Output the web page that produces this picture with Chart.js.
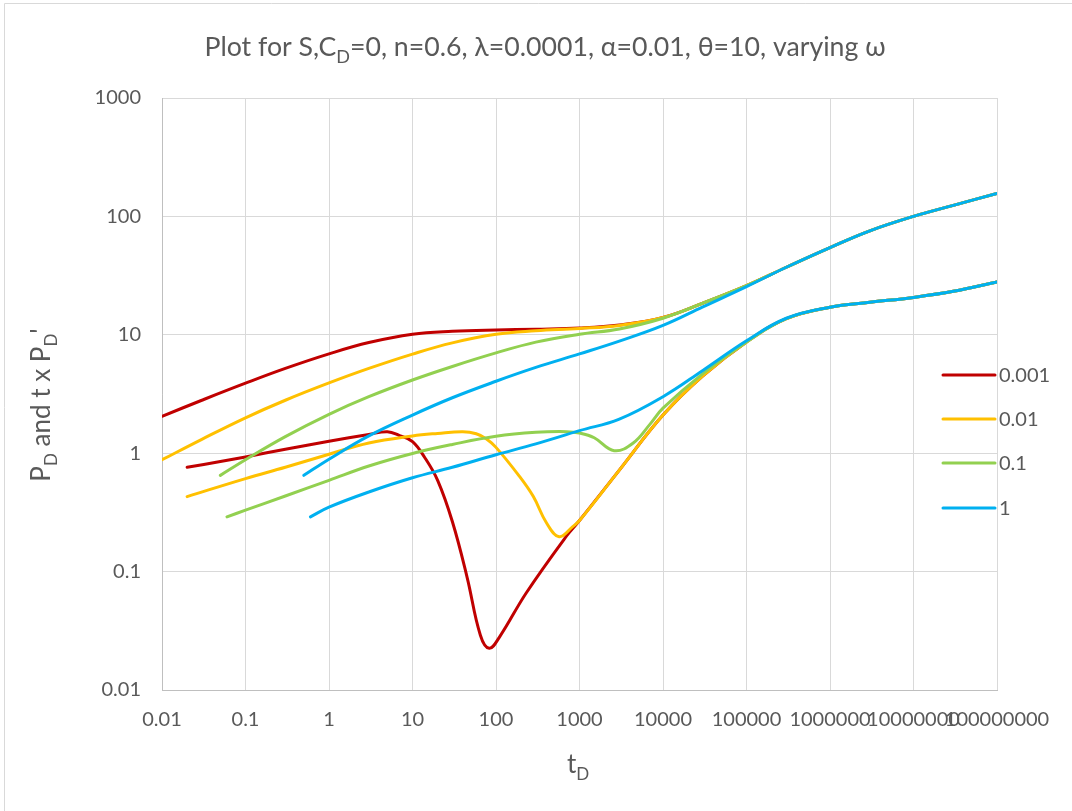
<!DOCTYPE html>
<html>
<head>
<meta charset="utf-8">
<script src="https://cdn.jsdelivr.net/npm/chart.js@4.4.1/dist/chart.umd.min.js"></script>
<style>
  html, body { margin: 0; padding: 0; background: #fff; }
  #wrap { width: 1072px; height: 811px; }
</style>
</head>
<body>
<div id="wrap"><canvas id="chart" width="1072" height="811"></canvas></div>
<script>
// Legend entries (omega) and their line colours
const omegas = ['0.001', '0.01', '0.1', '1'];
const seriesColors = ['#C00000', '#FFC000', '#92D050', '#00B0F0'];

const xTicks = [0.01, 0.1, 1, 10, 100, 1000, 10000, 1e5, 1e6, 1e7, 1e8];
const xTickLabels = ['0.01', '0.1', '1', '10', '100', '1000', '10000', '100000', '1000000', '10000000', '100000000'];
const yTicks = [0.01, 0.1, 1, 10, 100, 1000];
const yTickLabels = ['0.01', '0.1', '1', '10', '100', '1000'];

// omega = 0.001
const tPd1 = [0.01, 0.03, 0.1, 0.3, 1, 3, 10, 30, 100, 300, 1000, 3000, 1e4, 3e4, 1e5, 3e5, 1e6, 3e6, 1e7, 3e7, 1e8];
const pd1 = [2.05, 2.8, 3.9, 5.2, 6.9, 8.6, 10.1, 10.7, 11.0, 11.15, 11.4, 12.1, 14.0, 18.5, 26, 37.2, 54.5, 75.5, 100, 124, 156];
const tDer1 = [0.02, 0.05, 0.1, 0.3, 1, 3, 5, 7, 10, 14, 20, 30, 45, 65, 83, 110, 230, 700, 1000, 3000, 1e4, 3e4, 1e5, 3e5, 1e6, 3e6, 1e7, 3e7, 1e8];
const der1 = [0.76, 0.85, 0.93, 1.08, 1.26, 1.44, 1.52, 1.41, 1.25, 0.92, 0.59, 0.265, 0.09, 0.029, 0.0225, 0.028, 0.066, 0.2, 0.27, 0.72, 2.1, 4.5, 8.7, 13.7, 17.1, 18.8, 20.7, 23.3, 28];

// omega = 0.01
const tPd2 = [0.01, 0.03, 0.1, 0.3, 1, 3, 10, 30, 100, 300, 1000, 3000, 1e4, 3e4, 1e5, 3e5, 1e6, 3e6, 1e7, 3e7, 1e8];
const pd2 = [0.88, 1.31, 1.99, 2.8, 3.92, 5.2, 6.87, 8.55, 10.1, 10.8, 11.3, 12.0, 14.0, 18.5, 26, 37.2, 54.5, 75.5, 100, 124, 156];
const tDer2 = [0.02, 0.1, 0.3, 1, 3, 10, 20, 40, 58, 77, 100, 190, 280, 400, 570, 830, 1000, 3000, 1e4, 3e4, 1e5, 3e5, 1e6, 3e6, 1e7, 3e7, 1e8];
const der2 = [0.43, 0.61, 0.76, 0.98, 1.22, 1.40, 1.47, 1.52, 1.46, 1.32, 1.12, 0.64, 0.43, 0.26, 0.197, 0.24, 0.27, 0.72, 2.1, 4.5, 8.7, 13.7, 17.1, 18.8, 20.7, 23.3, 28];

// omega = 0.1
const tPd3 = [0.05, 0.1, 0.3, 1, 3, 10, 30, 100, 300, 1000, 3000, 1e4, 3e4, 1e5, 3e5, 1e6, 3e6, 1e7, 3e7, 1e8];
const pd3 = [0.65, 0.88, 1.38, 2.13, 3.0, 4.15, 5.4, 7.03, 8.67, 10.1, 11.2, 13.8, 18.5, 26, 37.2, 54.5, 75.5, 100, 124, 156];
const tDer3 = [0.06, 0.1, 0.3, 1, 3, 10, 30, 100, 300, 700, 1000, 1500, 2600, 4400, 7000, 1e4, 3e4, 1e5, 3e5, 1e6, 3e6, 1e7, 3e7, 1e8];
const der3 = [0.29, 0.33, 0.435, 0.59, 0.78, 0.995, 1.185, 1.39, 1.5, 1.52, 1.48, 1.35, 1.05, 1.22, 1.76, 2.4, 4.7, 8.7, 13.7, 17.1, 18.8, 20.7, 23.3, 28];

// omega = 1
const tPd4 = [0.5, 1, 3, 10, 30, 100, 300, 1000, 3000, 1e4, 3e4, 1e5, 3e5, 1e6, 3e6, 1e7, 3e7, 1e8];
const pd4 = [0.65, 0.89, 1.40, 2.1, 2.94, 4.05, 5.3, 6.9, 8.85, 12.0, 17.2, 25.5, 37.2, 54.5, 75.5, 100, 124, 156];
const tDer4 = [0.6, 1, 3, 10, 30, 100, 300, 1000, 3000, 1e4, 3e4, 1e5, 3e5, 1e6, 3e6, 1e7, 3e7, 1e8];
const der4 = [0.29, 0.35, 0.47, 0.62, 0.76, 0.97, 1.2, 1.55, 1.94, 3.0, 5.0, 8.9, 13.8, 17.1, 18.8, 20.7, 23.3, 28];

const seriesT = [[tPd1, tDer1], [tPd2, tDer2], [tPd3, tDer3], [tPd4, tDer4]];
const seriesY = [[pd1, der1], [pd2, der2], [pd3, der3], [pd4, der4]];

const textColor = '#595959';
const fontFamily = 'Lato, "Open Sans", sans-serif';

const toPoints = (ts, ys) => ts.map((t, i) => ({ x: t, y: ys[i] }));

const datasets = [];
omegas.forEach((w, i) => {
    [0, 1].forEach(k => {
        datasets.push({
            label: w,
            data: toPoints(seriesT[i][k], seriesY[i][k]),
            borderColor: seriesColors[i],
            backgroundColor: seriesColors[i],
            borderWidth: 3,
            pointRadius: 0,
            fill: false,
            tension: 0.4,
            borderCapStyle: 'round',
            borderJoinStyle: 'round',
            order: omegas.length - i   // later omegas drawn on top
        });
    });
});

// Draws a run of text pieces, some as subscripts
function drawRich(ctx, parts, x, y, size, align) {
    const subSize = Math.round(size * 0.66);
    const widths = parts.map(p => {
        ctx.font = `${p.sub ? subSize : size}px ${fontFamily}`;
        return ctx.measureText(p.text).width;
    });
    const total = widths.reduce((a, b) => a + b, 0);
    let cx = align === 'center' ? x - total / 2 : x;
    parts.forEach((p, i) => {
        ctx.font = `${p.sub ? subSize : size}px ${fontFamily}`;
        ctx.fillText(p.text, cx, p.sub ? y + size * 0.28 : y);
        cx += widths[i];
    });
}

const decorations = {
    id: 'decorations',
    afterDraw(chart) {
        const ctx = chart.ctx;
        ctx.save();

        // outer frame
        ctx.strokeStyle = '#d9d9d9';
        ctx.lineWidth = 1;
        ctx.beginPath();
        ctx.moveTo(4.5, 811);
        ctx.lineTo(4.5, 3.5);
        ctx.lineTo(1072, 3.5);
        ctx.stroke();

        ctx.fillStyle = textColor;
        ctx.textBaseline = 'alphabetic';
        ctx.textAlign = 'left';

        // chart title
        drawRich(ctx, [
            { text: 'Plot for S,C' },
            { text: 'D', sub: true },
            { text: '=0, n=0.6, λ=0.0001, α=0.01, θ=10, varying ω' }
        ], 545, 56, 26.7, 'center');

        // x axis title
        drawRich(ctx, [{ text: 't' }, { text: 'D', sub: true }], 578, 773, 26, 'center');

        // y axis title
        ctx.save();
        ctx.translate(50, 405);
        ctx.rotate(-Math.PI / 2);
        drawRich(ctx, [
            { text: 'P' }, { text: 'D', sub: true },
            { text: ' and t x P' }, { text: 'D', sub: true },
            { text: '\'' }
        ], 0, 0, 26, 'center');
        ctx.restore();

        // legend
        const legendY = [375, 419, 463, 508];
        ctx.font = `20px ${fontFamily}`;
        ctx.textBaseline = 'middle';
        omegas.forEach((w, i) => {
            ctx.strokeStyle = seriesColors[i];
            ctx.lineWidth = 3;
            ctx.lineCap = 'round';
            ctx.beginPath();
            ctx.moveTo(943, legendY[i]);
            ctx.lineTo(995, legendY[i]);
            ctx.stroke();
            ctx.fillText(w, 999, legendY[i] + 1);
        });
        ctx.restore();
    }
};

new Chart(document.getElementById('chart'), {
    type: 'line',
    data: { datasets },
    options: {
        responsive: false,
        animation: false,
        layout: { padding: { top: 98, right: 75, bottom: 0, left: 0 } },
        plugins: {
            legend: { display: false },
            tooltip: { enabled: false },
            title: { display: false }
        },
        scales: {
            x: {
                type: 'logarithmic',
                min: 0.01,
                max: 1e8,
                afterBuildTicks: s => { s.ticks = xTicks.map(v => ({ value: v })); },
                afterFit: s => { s.height = 121; },
                grid: { color: '#d9d9d9', lineWidth: 1, drawTicks: false },
                border: { color: '#bfbfbf', width: 1 },
                ticks: {
                    autoSkip: false,
                    maxRotation: 0,
                    minRotation: 0,
                    padding: 18,
                    color: textColor,
                    font: { family: fontFamily, size: 20 },
                    callback: (v, i) => xTickLabels[i]
                }
            },
            y: {
                type: 'logarithmic',
                min: 0.01,
                max: 1000,
                afterBuildTicks: s => { s.ticks = yTicks.map(v => ({ value: v })); },
                afterFit: s => { s.width = 162; },
                grid: { color: '#d9d9d9', lineWidth: 1, drawTicks: false },
                border: { color: '#bfbfbf', width: 1 },
                ticks: {
                    padding: 21,
                    color: textColor,
                    font: { family: fontFamily, size: 20 },
                    callback: (v, i) => yTickLabels[i]
                }
            }
        }
    },
    plugins: [decorations]
});
</script>
</body>
</html>
